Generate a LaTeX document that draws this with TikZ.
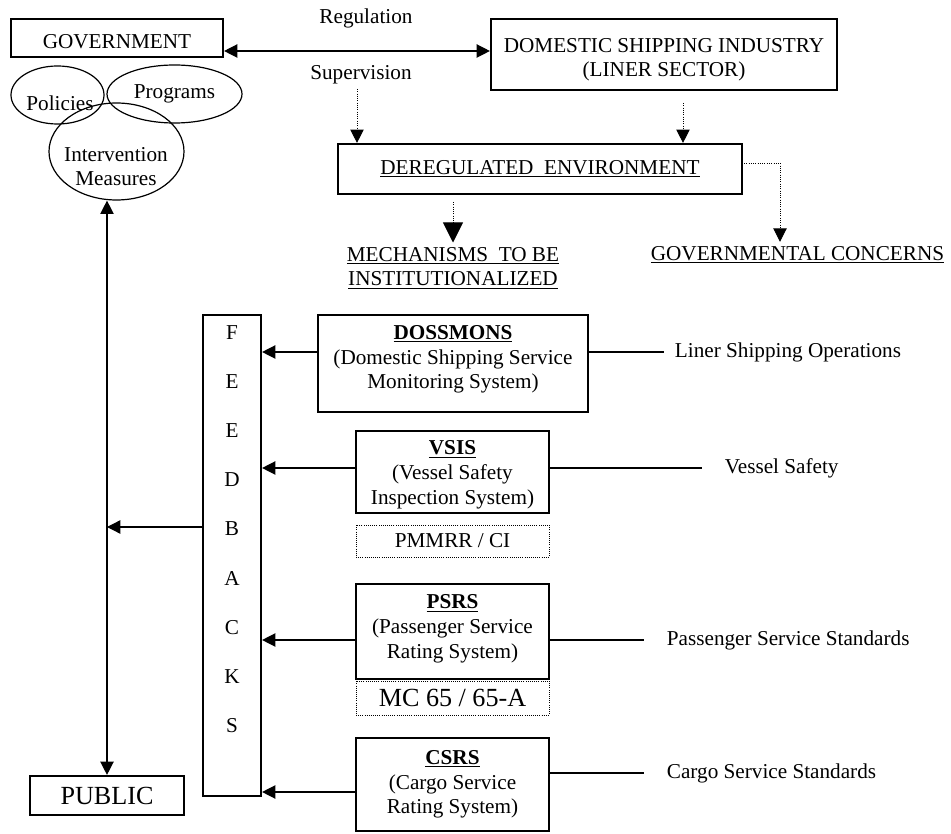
\documentclass[tikz,border=0pt]{standalone}
\usepackage{fontspec}
\setmainfont{Liberation Serif}
\usetikzlibrary{arrows.meta,shapes.geometric,calc}

\begin{document}
\begin{tikzpicture}[x=0.75pt,y=-0.75pt,
        font=\fontsize{15.9}{18.5}\selectfont,
        box/.style={draw,line width=1.6pt,align=center,inner sep=0pt},
        dotbox/.style={draw,densely dotted,line width=0.6pt,inner sep=0pt},
        ell/.style={draw,ellipse,line width=0.9pt,inner sep=0pt},
        side/.style={anchor=west,inner xsep=17pt},
        arr/.style={line width=1pt,-{Triangle[length=10pt,width=10pt]}},
        dbl/.style={line width=1pt,{Triangle[length=10pt,width=10pt]}-{Triangle[length=10pt,width=10pt]}},
        dotarr/.style={densely dotted,line width=0.7pt,-{Triangle[length=10pt,width=10pt]}}]
        \useasboundingbox (0,0) rectangle (951,834);
        % top row
        \node[box,minimum width=159pt,minimum height=28.5pt,label={[yshift=-3pt]center:GOVERNMENT}] (gov) at (117,38) {};
        \node[box,minimum width=259.5pt,minimum height=53.25pt,label={[align=center,yshift=-4pt]center:{DOMESTIC SHIPPING INDUSTRY\\(LINER SECTOR)}}] (dsi) at (664,54.5) {};
        \node (reg) at (366,18.5) {Regulation};
        \node (sup) at (361,75) {Supervision};
        \draw[dbl] ($(gov.east)+(0,13)$) coordinate (g1) -- (g1 -| dsi.west);
        % ellipses
        \node[ell,minimum width=69.75pt,minimum height=43.5pt] (pol) at (57.5,95) {};
        \node[ell,minimum width=101.25pt,minimum height=43.5pt] (prog) at (174.5,94) {Programs};
        \node[ell,minimum width=101.25pt,minimum height=72.75pt] (inter) at (116.5,151.5) {};
        \node (poltext) at (60,103) {Policies};
        \node[align=center] (intertext) at (116,166.5) {Intervention\\Measures};
        % deregulated environment
        \node[box,minimum width=303pt,minimum height=37.5pt] (dereg) at (540,169) {\underline{DEREGULATED\ \ ENVIRONMENT}};
        \node[align=center] (mech) at (453,268) {\underline{MECHANISMS\ \ TO BE}\\\underline{INSTITUTIONALIZED}};
        \node (gc) at (797.5,255) {\underline{GOVERNMENTAL CONCERNS}};
        \draw[dotarr] ($(sup.south)+(-4,0)$) coordinate (s1) -- (s1 |- dereg.north);
        \draw[dotarr] ($(dsi.south)+(19,12)$) coordinate (d1) -- (d1 |- dereg.north);
        \draw[densely dotted,line width=0.7pt,-{Triangle[length=15pt,width=15pt]}] ($(dereg.south)+(-87,7)$) coordinate (m1) -- (m1 |- mech.north);
        \draw[dotarr] ($(dereg.east)+(1,-6)$) -| ($(gc.north)+(-17.5,0)$);
        % feedbacks column
        \node[box,minimum width=43.5pt,minimum height=360.75pt] (fb) at (232,555.5) {};
        \node[align=center,font=\fontsize{15.9}{36.9}\selectfont] (fbtext) at (232,529) {F\\E\\E\\D\\B\\A\\C\\K\\S};
        % monitoring systems
        \node[box,minimum width=202.5pt,minimum height=72.75pt,label={[align=center,yshift=3pt]center:{\textbf{\underline{DOSSMONS}}\\(Domestic Shipping Service\\Monitoring System)}}] (doss) at (453,363.5) {};
        \node[box,minimum width=144.75pt,minimum height=61.5pt,label={[align=center,yshift=-2pt]center:{\textbf{\underline{VSIS}}\\(Vessel Safety\\Inspection System)}}] (vsis) at (452.5,472) {};
        \node[dotbox,minimum width=144.75pt,minimum height=24pt] (pmm) at (452.5,541) {PMMRR / CI};
        \node[box,minimum width=144.75pt,minimum height=71.25pt,label={[align=center,yshift=2pt]center:{\textbf{\underline{PSRS}}\\(Passenger Service\\Rating System)}}] (psrs) at (452.5,631.5) {};
        \node[dotbox,minimum width=144.75pt,minimum height=25.5pt,font=\fontsize{19.6}{22}\selectfont] (mc) at (452.5,698) {MC 65 / 65-A};
        \node[box,minimum width=144.75pt,minimum height=69.75pt] (csrs) at (452.5,784.5) {\textbf{\underline{CSRS}}\\(Cargo Service\\Rating System)};
        \node[box,minimum width=115.5pt,minimum height=29.25pt,font=\fontsize{19.6}{22}\selectfont] (pub) at (107,795.5) {PUBLIC};
        % right labels
        \node[side,inner xsep=8pt] (lso) at (664,352) {Liner Shipping Operations};
        \node[side] (vs) at (702,468) {Vessel Safety};
        \node[side] (pss) at (644,640) {Passenger Service Standards};
        \node[side] (css) at (644,773) {Cargo Service Standards};
        \draw[line width=1pt] (lso.west -| doss.east) -- (lso.west);
        \draw[line width=1pt] (vs.west -| vsis.east) -- (vs.west);
        \draw[line width=1pt] (pss.west -| psrs.east) -- (pss.west);
        \draw[line width=1pt] (css.west -| csrs.east) -- (css.west);
        % feedback arrows
        \draw[arr] (lso.west -| doss.west) -- (lso.west -| fb.east);
        \draw[arr] (vs.west -| vsis.west) -- (vs.west -| fb.east);
        \draw[arr] (pss.west -| psrs.west) -- (pss.west -| fb.east);
        \draw[arr] ($(csrs.west)+(0,7.5)$) coordinate (c1) -- (c1 -| fb.east);
        \draw[arr] ($(fb.west)+(0,-28.5)$) coordinate (f1) -- (f1 -| pub.north);
        \draw[dbl] (pub.north) -- (pub.north |- inter.south);
\end{tikzpicture}
\end{document}
